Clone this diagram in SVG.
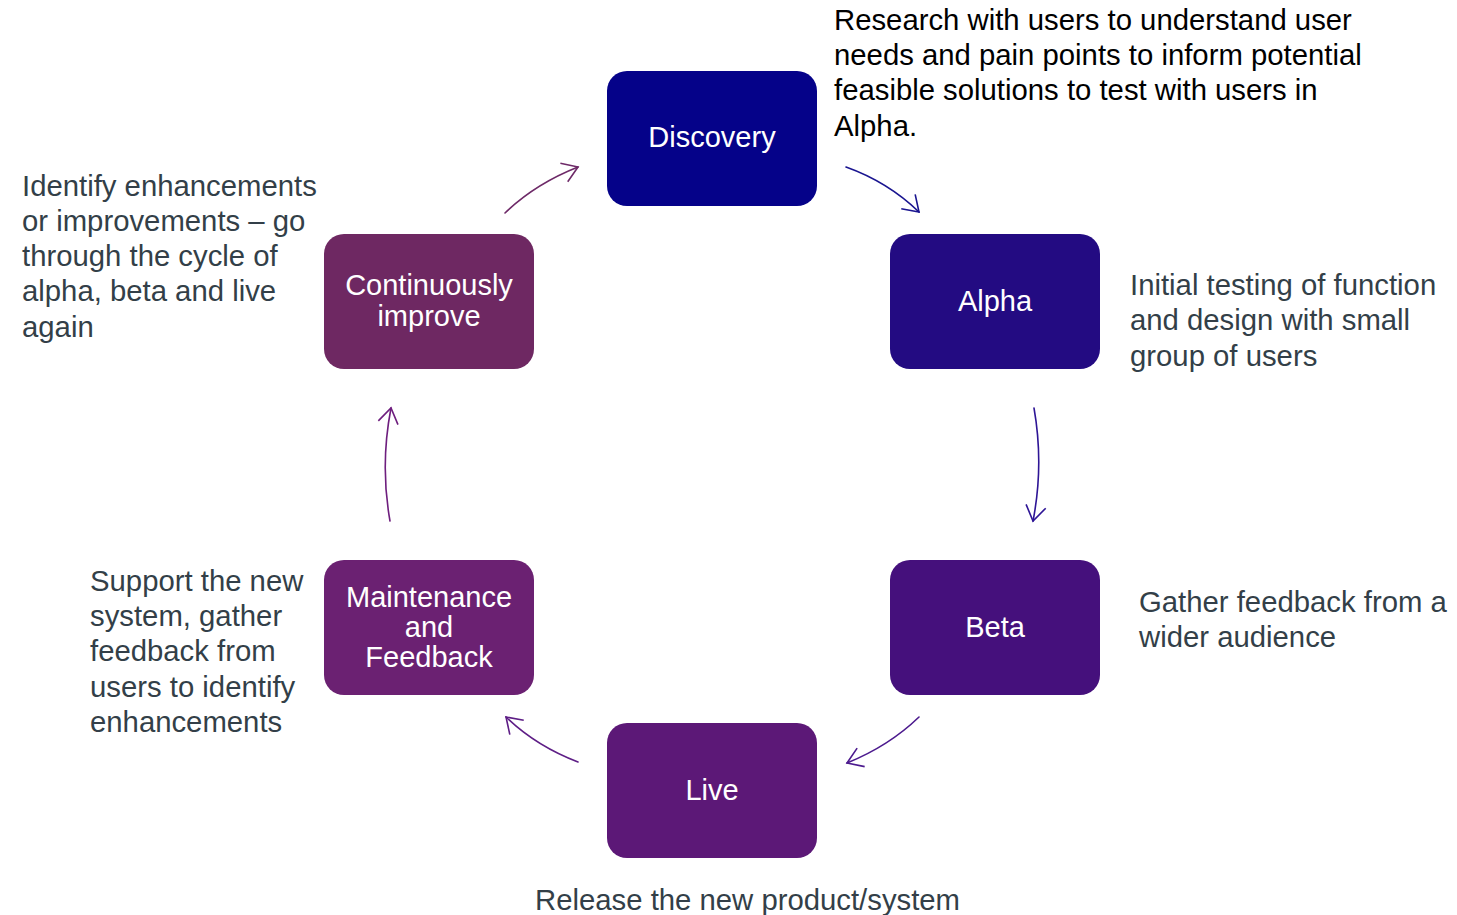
<svg xmlns="http://www.w3.org/2000/svg" width="1457" height="915" viewBox="0 0 1457 915">
<style>
.node rect{stroke:none}
.lbl{font-family:"Liberation Sans",Arial,sans-serif;font-size:29px;fill:#ffffff;text-anchor:middle}
.desc{font-family:"Liberation Sans",Arial,sans-serif;font-size:29.3px;fill:#333f48}
.descb{font-family:"Liberation Sans",Arial,sans-serif;font-size:29.3px;fill:#000000}
.arc{fill:none;stroke-width:1.6;stroke-linecap:round}
</style>
<defs>
<marker id="h1" markerUnits="userSpaceOnUse" markerWidth="30" markerHeight="30" refX="0" refY="0" viewBox="-20 -15 25 30" orient="auto"><path d="M-15,-10 L0,0 L-15,10" fill="none" stroke="#6e2a68" stroke-width="1.6"/></marker>
<marker id="h2" markerUnits="userSpaceOnUse" markerWidth="30" markerHeight="30" refX="0" refY="0" viewBox="-20 -15 25 30" orient="auto"><path d="M-15,-10 L0,0 L-15,10" fill="none" stroke="#1a1590" stroke-width="1.6"/></marker>
<marker id="h3" markerUnits="userSpaceOnUse" markerWidth="30" markerHeight="30" refX="0" refY="0" viewBox="-20 -15 25 30" orient="auto"><path d="M-15,-10 L0,0 L-15,10" fill="none" stroke="#2e1596" stroke-width="1.6"/></marker>
<marker id="h4" markerUnits="userSpaceOnUse" markerWidth="30" markerHeight="30" refX="0" refY="0" viewBox="-20 -15 25 30" orient="auto"><path d="M-15,-10 L0,0 L-15,10" fill="none" stroke="#4c1a8e" stroke-width="1.6"/></marker>
<marker id="h5" markerUnits="userSpaceOnUse" markerWidth="30" markerHeight="30" refX="0" refY="0" viewBox="-20 -15 25 30" orient="auto"><path d="M-15,-10 L0,0 L-15,10" fill="none" stroke="#5e1e86" stroke-width="1.6"/></marker>
<marker id="h6" markerUnits="userSpaceOnUse" markerWidth="30" markerHeight="30" refX="0" refY="0" viewBox="-20 -15 25 30" orient="auto"><path d="M-15,-10 L0,0 L-15,10" fill="none" stroke="#6e1e7e" stroke-width="1.6"/></marker>
</defs>
<rect width="1457" height="915" fill="#ffffff"/>
<g id="connectors">
<path class="arc" d="M505,213 Q535,184 578,167" stroke="#6e2a68" marker-end="url(#h1)"/>
<path class="arc" d="M846,167 Q888,182 919,212" stroke="#1a1590" marker-end="url(#h2)"/>
<path class="arc" d="M1034,408 Q1044,465 1033,521" stroke="#2e1596" marker-end="url(#h3)"/>
<path class="arc" d="M919,717 Q889,746 847,763" stroke="#4c1a8e" marker-end="url(#h4)"/>
<path class="arc" d="M578,762 Q536,746 506,717" stroke="#5e1e86" marker-end="url(#h5)"/>
<path class="arc" d="M390,521 Q380,465 391,408" stroke="#6e1e7e" marker-end="url(#h6)"/>
</g>
<g id="discovery" class="node"><rect x="607" y="71" width="210" height="135" rx="20" fill="#050289"/><text class="lbl" x="712" y="147">Discovery</text></g>
<g id="alpha" class="node"><rect x="890" y="234" width="210" height="135" rx="20" fill="#230b82"/><text class="lbl" x="995" y="311">Alpha</text></g>
<g id="beta" class="node"><rect x="890" y="560" width="210" height="135" rx="20" fill="#45107c"/><text class="lbl" x="995" y="637">Beta</text></g>
<g id="live" class="node"><rect x="607" y="723" width="210" height="135" rx="20" fill="#5c1877"/><text class="lbl" x="712" y="800">Live</text></g>
<g id="maintenance" class="node"><rect x="324" y="560" width="210" height="135" rx="20" fill="#6b2172"/><text class="lbl" x="429" y="607">Maintenance</text><text class="lbl" x="429" y="637">and</text><text class="lbl" x="429" y="667">Feedback</text></g>
<g id="continuously" class="node"><rect x="324" y="234" width="210" height="135" rx="20" fill="#6e2862"/><text class="lbl" x="429" y="295">Continuously</text><text class="lbl" x="429" y="326">improve</text></g>
<g id="texts">
<text class="descb" x="834" y="30">Research with users to understand user</text>
<text class="descb" x="834" y="65">needs and pain points to inform potential</text>
<text class="descb" x="834" y="100">feasible solutions to test with users in</text>
<text class="descb" x="834" y="136">Alpha.</text>
<text class="desc" x="1130" y="295">Initial testing of function</text>
<text class="desc" x="1130" y="330">and design with small</text>
<text class="desc" x="1130" y="366">group of users</text>
<text class="desc" x="1139" y="612">Gather feedback from a</text>
<text class="desc" x="1139" y="647">wider audience</text>
<text class="desc" x="535" y="910">Release the new product/system</text>
<text class="desc" x="90" y="591">Support the new</text>
<text class="desc" x="90" y="626">system, gather</text>
<text class="desc" x="90" y="661">feedback from</text>
<text class="desc" x="90" y="697">users to identify</text>
<text class="desc" x="90" y="732">enhancements</text>
<text class="desc" x="22" y="196">Identify enhancements</text>
<text class="desc" x="22" y="231">or improvements – go</text>
<text class="desc" x="22" y="266">through the cycle of</text>
<text class="desc" x="22" y="301">alpha, beta and live</text>
<text class="desc" x="22" y="337">again</text>
</g>
</svg>
